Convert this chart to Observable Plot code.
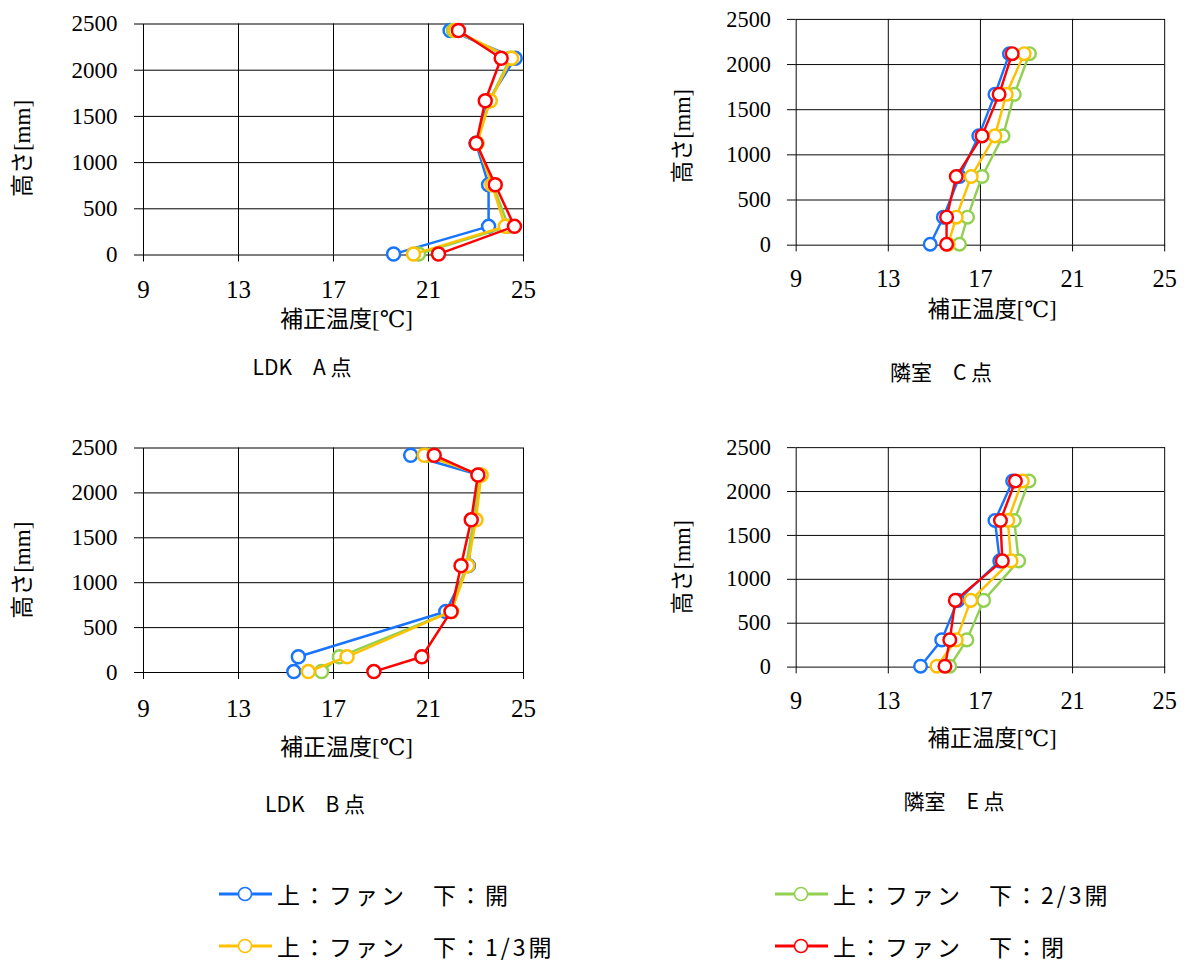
<!DOCTYPE html>
<html><head><meta charset="utf-8">
<script src="https://cdn.jsdelivr.net/npm/d3@7"></script>
<script src="https://cdn.jsdelivr.net/npm/@observablehq/plot@0.6"></script>
<style>
body{margin:0;background:#fff;}
#root{position:relative;width:1203px;height:963px;overflow:hidden;background:#fff;}
.panel{position:absolute;}
.cap{position:absolute;font-family:"Noto Sans CJK JP";font-size:21px;line-height:24px;color:#000;white-space:nowrap;transform:translate(-50%,-50%);}
.leg{position:absolute;display:flex;align-items:center;font-family:"Noto Sans CJK JP";font-size:23px;line-height:26px;letter-spacing:3px;color:#000;white-space:nowrap;}
.leg svg{margin-right:5px;}
</style></head><body><div id="root"></div>
<script>
// ---- data ----
const seriesNames = ["上：ファン　下：開", "上：ファン　下：2/3開", "上：ファン　下：1/3開", "上：ファン　下：閉"];
const seriesColors = ["#1874ff", "#92d050", "#ffc000", "#ff0000"];
const xTicks = [9, 13, 17, 21, 25];
const yTicks = [0, 500, 1000, 1500, 2000, 2500];

const heightsA = [10, 310, 760, 1210, 1670, 2130, 2430];
const heightsB = [10, 175, 680, 1190, 1700, 2200, 2420];
const heightsCE = [10, 310, 760, 1210, 1670, 2120];

// panel A (LDK A点): 開, 2/3開, 1/3開, 閉
const tempA_open  = [19.53, 23.53, 23.53, 23.00, 23.53, 24.65, 21.91];
const tempA_23    = [20.58, 24.37, 23.71, 23.04, 23.57, 24.44, 22.05];
const tempA_13    = [20.37, 24.23, 23.67, 23.04, 23.60, 24.50, 22.12];
const tempA_close = [21.42, 24.62, 23.81, 23.01, 23.39, 24.06, 22.26];

// panel B (LDK B点)
const tempB_open  = [15.33, 15.52, 21.73, 22.68, 22.90, 23.15, 20.25];
const tempB_23    = [16.50, 17.25, 21.95, 22.58, 22.90, 23.15, 20.96];
const tempB_13    = [15.94, 17.57, 21.97, 22.65, 23.00, 23.22, 20.82];
const tempB_close = [18.70, 20.72, 21.95, 22.37, 22.80, 23.08, 21.24];

// panel C (隣室 C点)
const tempC_open  = [14.82, 15.39, 16.09, 16.93, 17.63, 18.26];
const tempC_23    = [16.09, 16.44, 17.07, 17.98, 18.47, 19.13];
const tempC_13    = [15.60, 15.95, 16.60, 17.63, 18.12, 18.90];
const tempC_close = [15.53, 15.53, 15.95, 17.07, 17.81, 18.38];

// panel E (隣室 E点)
const tempE_open  = [14.40, 15.32, 16.02, 17.84, 17.63, 18.40];
const tempE_23    = [15.67, 16.41, 17.14, 18.66, 18.47, 19.11];
const tempE_13    = [15.11, 15.95, 16.58, 18.33, 18.19, 18.82];
const tempE_close = [15.46, 15.67, 15.91, 17.95, 17.87, 18.52];

const xLabel = "補正温度[℃]";
const yLabel = "高さ[mm]";
const captions = ["LDK　A 点", "隣室　C 点", "LDK　B 点", "隣室　E 点"];

// ---- layout ----
const panels = [
  {heights: heightsA, temps: [tempA_open, tempA_23, tempA_13, tempA_close],
   left: 0, top: 0, mt: 23.5, mb: 125.5, xt: 35, xl: {dx: 13, dy: 65}, cap: [302, 366], yl: {dx: -121, dy: 9}},
  {heights: heightsCE, temps: [tempC_open, tempC_23, tempC_13, tempC_close],
   left: 657, top: 0, mt: 19.5, mb: 127.7, xt: 35, xl: {dx: 12, dy: 67}, cap: [941, 371], yl: {dx: -117, dy: 4}},
  {heights: heightsB, temps: [tempB_open, tempB_23, tempB_13, tempB_close],
   left: 0, top: 420, mt: 27.5, mb: 128, xt: 36, xl: {dx: 13, dy: 75}, cap: [315, 803], yl: {dx: -121, dy: 10}},
  {heights: heightsCE, temps: [tempE_open, tempE_23, tempE_13, tempE_close],
   left: 657, top: 420, mt: 28, mb: 125.7, xt: 35, xl: {dx: 12, dy: 74}, cap: [954, 800], yl: {dx: -117, dy: 10}}
];

const root = document.getElementById("root");
const serif = "Liberation Serif, DejaVu Serif, Noto Sans CJK JP";

panels.forEach((p, pi) => {
  const rows = [];
  p.temps.forEach((arr, si) => arr.forEach((t, i) => rows.push({series: seriesNames[si], temp: t, height: p.heights[i]})));
  const marks = [
    Plot.gridX(xTicks.slice(1, -1), {stroke: "#000", strokeOpacity: 1, strokeWidth: 1}),
    Plot.gridY(yTicks.slice(1, -1), {stroke: "#000", strokeOpacity: 1, strokeWidth: 1}),
    Plot.frame({stroke: "#000", strokeWidth: 1}),
    Plot.axisX(xTicks, {tickSize: 7, label: null, tickFormat: () => ""}),
    Plot.axisY(yTicks, {tickSize: 9, label: null, tickFormat: () => ""}),
    Plot.text(xTicks, {x: d => d, frameAnchor: "bottom", text: d => String(d), dy: p.xt, lineAnchor: "middle", textAnchor: "middle", fontSize: 25, fontFamily: serif, fill: "#000"}),
    Plot.text(yTicks, {y: d => d, frameAnchor: "left", text: d => String(d), dx: -26, lineAnchor: "middle", textAnchor: "end", fontSize: 23, fontFamily: serif, fill: "#000"})
  ];
  seriesNames.forEach(name => {
    const d = rows.filter(r => r.series === name);
    marks.push(Plot.line(d, {x: "temp", y: "height", stroke: "series", strokeWidth: 2.5}));
    marks.push(Plot.dot(d, {x: "temp", y: "height", stroke: "series", fill: "white", r: 6.5, strokeWidth: 2.5}));
  });
  marks.push(Plot.text([xLabel], {frameAnchor: "bottom", textAnchor: "middle", lineAnchor: "middle", dx: p.xl.dx, dy: p.xl.dy, fontSize: 23, fontFamily: serif, fill: "#000"}));
  marks.push(Plot.text([yLabel], {frameAnchor: "left", textAnchor: "middle", lineAnchor: "middle", dx: p.yl.dx, dy: p.yl.dy, rotate: -90, fontSize: 23, fontFamily: serif, fill: "#000"}));

  const chart = Plot.plot({
    width: 563,
    height: 380,
    marginLeft: 143,
    marginRight: 40,
    marginTop: p.mt,
    marginBottom: p.mb,
    x: {domain: [9, 25]},
    y: {domain: [0, 2500]},
    color: {domain: seriesNames, range: seriesColors},
    style: {fontFamily: serif, fontSize: "21px", color: "#000", background: "transparent", overflow: "visible"},
    marks
  });
  const div = document.createElement("div");
  div.className = "panel";
  div.style.left = p.left + "px";
  div.style.top = p.top + "px";
  div.appendChild(chart);
  root.appendChild(div);

  const cap = document.createElement("div");
  cap.className = "cap";
  cap.style.left = p.cap[0] + "px";
  cap.style.top = p.cap[1] + "px";
  cap.textContent = captions[pi];
  root.appendChild(cap);
});

// ---- legend ----
const legendPos = [[219, 894], [775, 894], [219, 946], [775, 946]];
seriesNames.forEach((name, i) => {
  const item = document.createElement("div");
  item.className = "leg";
  item.style.left = legendPos[i][0] + "px";
  item.style.top = (legendPos[i][1] - 13) + "px";
  const c = seriesColors[i];
  item.innerHTML = `<svg width="53" height="20" style="overflow:visible"><line x1="0" x2="53" y1="10" y2="10" stroke="${c}" stroke-width="3"/><circle cx="26" cy="10" r="6.5" fill="white" stroke="${c}" stroke-width="1.5"/></svg><span>${name}</span>`;
  root.appendChild(item);
});
</script></body></html>
